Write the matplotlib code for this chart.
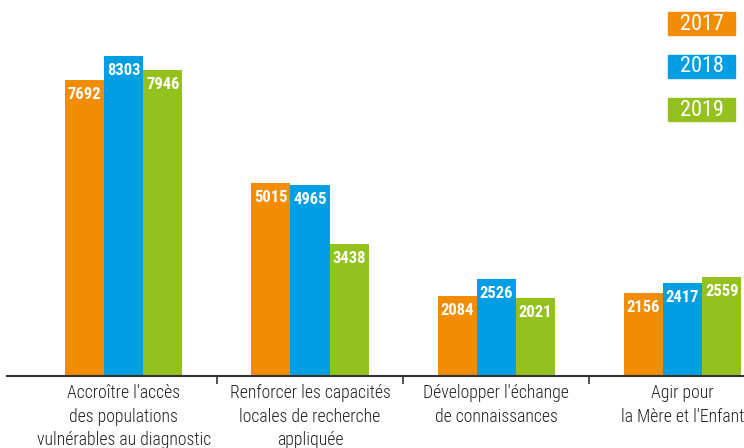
import numpy as np
import matplotlib.pyplot as plt
from matplotlib import font_manager
from matplotlib.patches import Rectangle

# pick a condensed face if one is installed
names = {f.name for f in font_manager.fontManager.ttflist}
cond = [n for n in ["Roboto Condensed", "Liberation Sans Narrow", "Open Sans Condensed",
                    "Noto Sans Condensed", "Liberation Sans"] if n in names]
plt.rcParams['font.family'] = cond[:1] + ['DejaVu Sans']

categories = ["Accroître l'accès\ndes populations\nvulnérables au diagnostic",
              "Renforcer les capacités\nlocales de recherche\nappliquée",
              "Développer l'échange\nde connaissances",
              "Agir pour\nla Mère et l'Enfant"]
years = ["2017", "2018", "2019"]
v2017 = [7692, 5015, 2084, 2156]
v2018 = [8303, 4965, 2526, 2417]
v2019 = [7946, 3438, 2021, 2559]
colors = ["#F28C00", "#009FE3", "#95C11F"]

fig = plt.figure(figsize=(7.44, 4.48), dpi=100)
ax = fig.add_axes([7/744, 72/448, 737/744, 376/448])

x = np.arange(len(categories))
w = 0.21
for i, (vals, c) in enumerate(zip([v2017, v2018, v2019], colors)):
    pos = x + (i - 1) * w
    ax.bar(pos, vals, width=w, color=c)
    for p, v in zip(pos, vals):
        ax.annotate(str(v), (p, v), xytext=(0, -10.5), textcoords="offset points",
                    ha="center", va="center", color="white", fontsize=12,
                    fontweight="bold")

ax.set_xlim(-0.627, 3.33)
ax.set_ylim(0, 9760)
for s in ["top", "right", "left"]:
    ax.spines[s].set_visible(False)
ax.spines["bottom"].set_color("#333333")
ax.spines["bottom"].set_linewidth(1.5)
ax.set_yticks([])
ax.set_xticks([0.5, 1.5, 2.5])
ax.set_xticklabels([])
ax.tick_params(axis="x", length=6, width=1.2, color="#333333")
for xi, lab in zip(x, categories):
    ax.text(xi, -0.022, lab, transform=ax.get_xaxis_transform(), ha="center",
            va="top", fontsize=12.8, fontweight="light", color="#222222",
            linespacing=1.4)

# legend boxes (pixel positions from top-left)
ly = [12, 55, 98]
for y, c, t in zip(ly, colors, years):
    fig.patches.append(Rectangle((668/744, 1 - (y + 23)/448), 67/744, 23/448,
                                 transform=fig.transFigure, color=c))
    fig.text(701.5/744, 1 - (y + 12)/448, t, ha="center", va="center",
             color="white", fontsize=16)

fig.savefig("out.png", dpi=100)
